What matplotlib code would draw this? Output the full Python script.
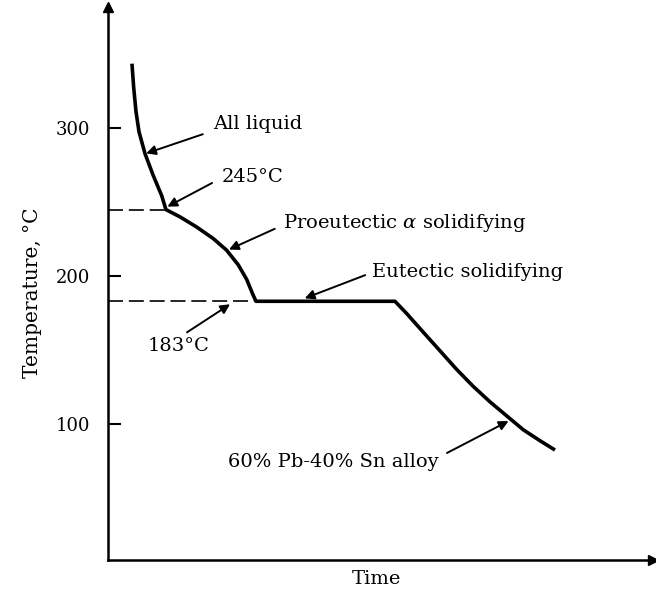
import matplotlib
matplotlib.use("Agg")
import matplotlib.pyplot as plt

plt.rcParams["font.family"] = ["DejaVu Serif"]
plt.rcParams["mathtext.fontset"] = "dejavuserif"

# Cooling curve of a 60% Pb-40% Sn alloy (time in arbitrary units, temperature in °C)
time = [0.440, 0.472, 0.514, 0.569, 0.679, 0.831, 0.985, 1.064,
        1.321, 1.628, 1.932, 2.178, 2.391, 2.545, 2.655, 2.716,
        5.266, 5.481, 5.785, 6.092, 6.398, 6.703, 7.009, 7.316, 7.620, 7.927, 8.202]
temp = [343.7, 327.5, 311.3, 297.7, 282.9, 268.0, 254.5, 245,
        240.1, 233.2, 225.4, 217.5, 207.6, 197.8, 187.9, 183,
        183, 174.7, 162.1, 149.5, 136.9, 125.4, 115.0, 105.5, 96.1, 88.7, 82.4]

liquidus_temp = 245
eutectic_temp = 183
liquidus_time = 1.064
eutectic_time = 2.716

ytick_values = [100, 200, 300]

# (text, text position, arrow tail, arrow tip)
notes = [
    ("All liquid", (1.93, 303), (1.74, 296), (0.70, 283)),
    ("245°C", (2.09, 266.8), (1.91, 263), (1.09, 247)),
    ("Proeutectic $\\alpha$ solidifying", (3.21, 236), (3.06, 232), (2.22, 218)),
    ("Eutectic solidifying", (4.84, 202.5), (4.72, 200.7), (3.61, 185)),
    ("183°C", (0.72, 152.7), (1.45, 162), (2.24, 181)),
    ("60% Pb-40% Sn alloy", (2.20, 74.3), (6.22, 80.4), (7.35, 102)),
]

fig = plt.figure(figsize=(6.56, 5.92), dpi=100)
ax = fig.add_axes([0.1646, 0.054, 0.8308, 0.9341])
ax.set_xlim(0, 10)
ax.set_ylim(8, 382)

ax.plot(time, temp, color="black", lw=2.6, solid_joinstyle="round",
        solid_capstyle="butt")

# Reference lines for the liquidus and eutectic temperatures
ax.plot([0, liquidus_time], [liquidus_temp, liquidus_temp], color="black",
        lw=1.2, linestyle=(0, (9, 3.5)))
ax.plot([0, eutectic_time], [eutectic_temp, eutectic_temp], color="black",
        lw=1.2, linestyle=(0, (9, 3.5)))

for text, tpos, tail, tip in notes:
    ax.text(tpos[0], tpos[1], text, ha="left", va="center", fontsize=14)
    ax.annotate("", xy=tip, xytext=tail,
                arrowprops=dict(arrowstyle="-|>", color="black", lw=1.4,
                                mutation_scale=14, shrinkA=0, shrinkB=0))

for side in ("top", "right"):
    ax.spines[side].set_visible(False)
for side in ("left", "bottom"):
    ax.spines[side].set_linewidth(1.8)

# Arrowheads at the ends of both axes
ax.plot(0, 1, marker="^", markersize=7, color="black", transform=ax.transAxes,
        clip_on=False)
ax.plot(1, 0, marker=">", markersize=7, color="black", transform=ax.transAxes,
        clip_on=False)

ax.set_xticks([])
ax.set_yticks(ytick_values)
ax.set_yticklabels([str(v) for v in ytick_values], fontsize=13)
ax.tick_params(axis="y", direction="in", length=9, width=1.5, pad=13)

ax.set_xlabel("Time", fontsize=14)
ax.set_ylabel("Temperature, °C", fontsize=14.5)
ax.xaxis.set_label_coords(0.492, -0.018)
ax.yaxis.set_label_coords(-0.121, 0.483)

fig.savefig("out.png", dpi=100)
